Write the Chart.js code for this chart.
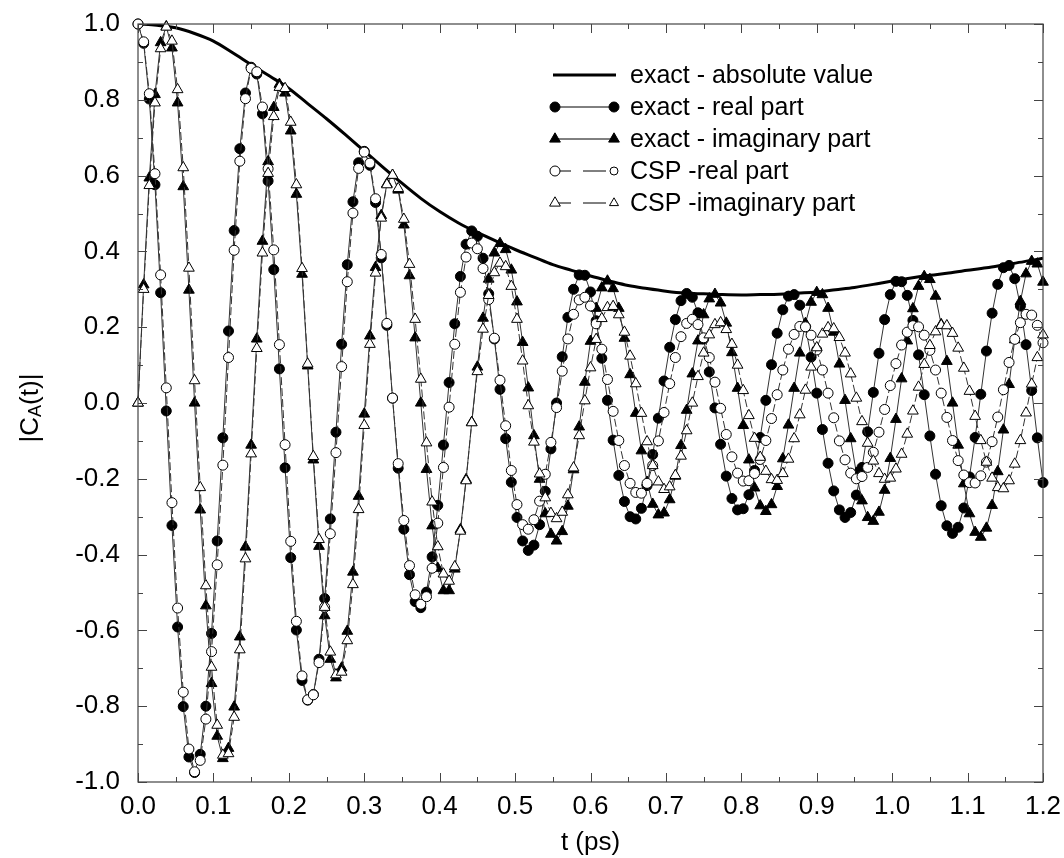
<!DOCTYPE html>
<html lang="en">
<head>
	<meta charset="UTF-8">
	<title>|CA(t)| exact vs CSP</title>
	<script src="https://cdn.jsdelivr.net/npm/chart.js"></script>
	<style>
		html, body { margin: 0; padding: 0; background: #fff; }
		#wrap { width: 1064px; height: 858px; }
	</style>
</head>
<body>
	<div id="wrap"><canvas id="myChart" width="1064" height="858"></canvas></div>
	<script type="text/javascript">
		// samples are taken every T_STEP ps, starting at t = 0
		var T_STEP = 0.0075;
		var ENV_STEP = 0.025;

		var seriesNames = ['exact - absolute value', 'exact - real part', 'exact - imaginary part', 'CSP -real part', 'CSP -imaginary part'];

		var exactAbs = [1.0, .997, .99, .975, .955, .925, .893, .862, .83, .79, .75, .708, .665, .622, .58, .54, .505, .475, .45, .427,
			.405, .385, .365, .35, .335, .322, .31, .302, .295, .29, .288, .286, .285, .286, .287, .29, .293, .299, .305, .313,
			.322, .33, .337, .343, .35, .357, .365, .373, .382];

		var exactRe = [1.0, .949, .802, .576, .291, -.021, -.323, -.591, -.801, -.934,
			-.975, -.927, -.800, -.608, -.364, -.092, .190, .455, .671, .818,
			.886, .868, .763, .586, .352, .090, -.171, -.408, -.599, -.732,
			-.784, -.769, -.676, -.516, -.306, -.077, .155, .365, .531, .634,
			.664, .627, .529, .383, .205, .013, -.172, -.333, -.453, -.524,
			-.540, -.499, -.406, -.270, -.111, .054, .209, .334, .419, .454,
			.440, .382, .288, .169, .036, -.094, -.209, -.302, -.364, -.389,
			-.375, -.321, -.233, -.121, .000, .122, .226, .300, .338, .337,
			.293, .217, .118, .007, -.098, -.191, -.260, -.300, -.306, -.278,
			-.218, -.136, -.040, .058, .147, .220, .270, .289, .279, .238,
			.169, .082, -.013, -.109, -.193, -.252, -.282, -.279, -.242, -.178,
			-.091, .007, .101, .184, .246, .282, .286, .258, .201, .121,
			.026, -.070, -.159, -.232, -.282, -.302, -.289, -.243, -.170, -.076,
			.028, .131, .220, .286, .321, .320, .284, .218, .127, .022,
			-.087, -.188, -.271, -.324, -.344, -.328, -.277, -.195, -.091, .023,
			.137, .237, .313, .357, .363, .328, .256, .154, .033, -.092,
			-.210];

		var exactIm = [0, .312, .594, .814, .951, .993, .937, .792, .571, .298,
			0, -.282, -.535, -.740, -.879, -.938, -.911, -.802, -.617, -.380,
			-.111, .169, .427, .637, .780, .841, .818, .718, .551, .340,
			.098, -.150, -.378, -.561, -.676, -.725, -.699, -.602, -.446, -.246,
			-.029, .177, .358, .495, .578, .601, .562, .470, .336, .172,
			0, -.175, -.324, -.436, -.495, -.495, -.438, -.334, -.202, -.051,
			.095, .224, .327, .396, .421, .405, .351, .267, .160, .040,
			-.086, -.201, -.292, -.346, -.364, -.339, -.272, -.176, -.063, .055,
			.163, .250, .304, .322, .302, .250, .171, .075, -.027, -.126,
			-.209, -.267, -.295, -.290, -.255, -.193, -.112, -.019, .077, .164,
			.233, .275, .287, .264, .211, .133, .039, -.059, -.150, -.224,
			-.271, -.286, -.268, -.220, -.147, -.058, .039, .132, .210, .266,
			.292, .286, .250, .187, .103, .007, -.094, -.185, -.258, -.302,
			-.312, -.288, -.230, -.146, -.043, .064, .164, .249, .308, .334,
			.326, .282, .207, .110, 0, -.111, -.213, -.292, -.341, -.354,
			-.330, -.270, -.181, -.071, .049, .167, .268, .341, .374, .367,
			.319];

		var cspRe = [1.0, .953, .816, .605, .338, .040, -.263, -.541, -.763, -.913,
			-.973, -.943, -.834, -.656, -.427, -.164, .120, .403, .638, .803,
			.883, .874, .781, .618, .404, .154, -.110, -.365, -.576, -.720,
			-.783, -.770, -.685, -.539, -.345, -.131, .096, .320, .501, .619,
			.662, .633, .539, .392, .210, .013, -.160, -.310, -.429, -.506,
			-.531, -.511, -.436, -.317, -.170, -.011, .155, .292, .385, .422,
			.407, .355, .273, .171, .060, -.060, -.178, -.268, -.321, -.333,
			-.308, -.259, -.188, -.104, -.012, .084, .169, .234, .272, .279,
			.256, .209, .142, .062, -.022, -.099, -.165, -.212, -.236, -.238,
			-.212, -.165, -.100, -.025, .051, .120, .175, .210, .221, .207,
			.172, .120, .055, -.014, -.083, -.142, -.185, -.206, -.205, -.186,
			-.149, -.099, -.041, .022, .087, .142, .181, .202, .201, .179,
			.140, .087, .026, -.039, -.100, -.150, -.185, -.200, -.194, -.170,
			-.130, -.077, -.017, .046, .104, .153, .187, .204, .201, .179,
			.139, .087, .026, -.038, -.099, -.152, -.190, -.210, -.211, -.192,
			-.156, -.102, -.037, .035, .107, .168, .212, .234, .232, .205,
			.159];

		var cspIm = [0, .300, .574, .792, .935, .992, .955, .827, .621, .356,
			.059, -.223, -.482, -.697, -.850, -.929, -.925, -.829, -.651, -.411,
			-.134, .144, .396, .606, .756, .833, .830, .741, .576, .355,
			.103, -.141, -.360, -.539, -.657, -.717, -.710, -.627, -.479, -.281,
			-.059, .155, .343, .488, .576, .601, .566, .485, .366, .221,
			.063, -.105, -.261, -.379, -.451, -.470, -.432, -.338, -.205, -.052,
			.083, .195, .284, .344, .369, .360, .308, .221, .111, -.007,
			-.103, -.187, -.250, -.291, -.305, -.288, -.242, -.171, -.086, .006,
			.093, .168, .223, .252, .255, .233, .187, .124, .051, -.027,
			-.102, -.165, -.208, -.228, -.221, -.191, -.140, -.073, 0, .070,
			.132, .180, .207, .212, .194, .155, .100, .033, -.033, -.093,
			-.143, -.180, -.202, -.204, -.186, -.148, -.094, -.031, .034, .095,
			.146, .182, .199, .196, .173, .132, .077, .013, -.049, -.106,
			-.153, -.186, -.201, -.198, -.174, -.135, -.082, -.021, .042, .102,
			.152, .188, .205, .204, .184, .145, .092, .031, -.035, -.099,
			-.156, -.198, -.223, -.226, -.205, -.161, -.099, -.026, .050, .120,
			.180];

		var FONT = '"Liberation Sans", Arial, Helvetica, sans-serif';

		function toPoints(vals, step) {
			return vals.map(function(v, i) { return { x: +(i * step).toFixed(4), y: v }; });
		}

		function drawMarker(ctx, style, filled, x, y, r) {
			ctx.beginPath();
			if (style === 'circle') {
				ctx.arc(x, y, r, 0, Math.PI * 2);
			} else {
				ctx.moveTo(x, y - r);
				ctx.lineTo(x + r * 0.866, y + r * 0.5);
				ctx.lineTo(x - r * 0.866, y + r * 0.5);
				ctx.closePath();
			}
			ctx.fillStyle = filled ? '#000' : '#fff';
			ctx.fill();
			ctx.lineWidth = 1;
			ctx.strokeStyle = '#000';
			ctx.stroke();
		}

		// frame, inward ticks, axis titles and the legend
		var decorPlugin = {
			id: 'decor',
			afterDraw: function(chart) {
				var ctx = chart.ctx, a = chart.chartArea;
				var xs = chart.scales.x, ys = chart.scales.y;
				ctx.save();
				ctx.strokeStyle = '#444';
				ctx.lineWidth = 1.2;
				ctx.strokeRect(a.left, a.top, a.right - a.left, a.bottom - a.top);

				ctx.beginPath();
				for (var k = 0; k <= 24; k++) {
					var px = Math.round(xs.getPixelForValue(k * 0.05)) + 0.5;
					var len = k % 2 === 0 ? 9 : 5;
					ctx.moveTo(px, a.bottom); ctx.lineTo(px, a.bottom - len);
					ctx.moveTo(px, a.top); ctx.lineTo(px, a.top + len);
				}
				for (k = 0; k <= 20; k++) {
					var py = Math.round(ys.getPixelForValue(-1 + k * 0.1)) + 0.5;
					var l2 = k % 2 === 0 ? 9 : 5;
					ctx.moveTo(a.left, py); ctx.lineTo(a.left + l2, py);
					ctx.moveTo(a.right, py); ctx.lineTo(a.right - l2, py);
				}
				ctx.lineWidth = 1;
				ctx.stroke();

				// x title
				ctx.fillStyle = '#000';
				ctx.font = '26px ' + FONT;
				ctx.textAlign = 'center';
				ctx.textBaseline = 'alphabetic';
				ctx.fillText('t (ps)', (a.left + a.right) / 2, 850);

				// y title |C_A(t)| with subscript
				var big = '26px ' + FONT, small = '18px ' + FONT;
				ctx.font = big;
				var w1 = ctx.measureText('|C').width, w3 = ctx.measureText('(t)|').width;
				ctx.font = small;
				var w2 = ctx.measureText('A').width;
				var total = w1 + w2 + w3;
				ctx.save();
				ctx.translate(38, 408);
				ctx.rotate(-Math.PI / 2);
				ctx.textAlign = 'left';
				ctx.font = big;
				ctx.fillText('|C', -total / 2, 0);
				ctx.font = small;
				ctx.fillText('A', -total / 2 + w1, 3);
				ctx.font = big;
				ctx.fillText('(t)|', -total / 2 + w1 + w2, 0);
				ctx.restore();

				// legend
				var rows = [
					{ kind: 'thick' },
					{ style: 'circle', filled: true, dashed: false },
					{ style: 'triangle', filled: true, dashed: false },
					{ style: 'circle', filled: false, dashed: true },
					{ style: 'triangle', filled: false, dashed: true }
				];
				var x0 = 555, x1 = 614, tx = 630;
				ctx.font = '25px ' + FONT;
				ctx.textAlign = 'left';
				ctx.textBaseline = 'middle';
				rows.forEach(function(r, i) {
					var y = 75 + i * 32;
					ctx.strokeStyle = '#000';
					ctx.beginPath();
					if (r.kind === 'thick') {
						ctx.lineWidth = 3;
						ctx.moveTo(553, y); ctx.lineTo(616, y);
						ctx.stroke();
					} else {
						ctx.lineWidth = 1;
						if (r.dashed) {
							ctx.moveTo(x0, y); ctx.lineTo(571, y);
							ctx.moveTo(583, y); ctx.lineTo(606, y);
						} else {
							ctx.moveTo(x0, y); ctx.lineTo(x1, y);
						}
						ctx.stroke();
						var rad = r.style === 'circle' ? 5 : 6.2;
						drawMarker(ctx, r.style, r.filled, x0, y, rad);
						drawMarker(ctx, r.style, r.filled, x1, y, r.dashed ? rad - 1 : rad);
					}
					ctx.fillStyle = '#000';
					ctx.fillText(seriesNames[i], tx, y + 1);
				});
				ctx.restore();
			}
		};

		var tickFont = { family: FONT, size: 26 };

		function lineSet(label, vals, style, filled, dashed) {
			return {
				label: label,
				data: toPoints(vals, T_STEP),
				borderColor: '#333',
				borderWidth: 1,
				borderDash: dashed ? [8, 3] : [],
				pointStyle: style,
				pointRadius: style === 'circle' ? 5 : 6.2,
				pointBackgroundColor: filled ? '#000' : '#fff',
				pointBorderColor: '#000',
				pointBorderWidth: 1,
				tension: 0,
				clip: 10
			};
		}

		// first dataset is drawn on top
		var myChart = new Chart(document.getElementById('myChart'), {
			type: 'line',
			data: {
				datasets: [
					lineSet(seriesNames[4], cspIm, 'triangle', false, true),
					lineSet(seriesNames[3], cspRe, 'circle', false, true),
					lineSet(seriesNames[2], exactIm, 'triangle', true, false),
					lineSet(seriesNames[1], exactRe, 'circle', true, false),
					{
						label: seriesNames[0],
						data: toPoints(exactAbs, ENV_STEP),
						borderColor: '#000',
						borderWidth: 3,
						pointRadius: 0,
						cubicInterpolationMode: 'monotone',
						tension: 0.4
					}
				]
			},
			options: {
				responsive: false,
				animation: false,
				events: [],
				layout: { padding: { left: 0, right: 21, top: 24, bottom: 0 } },
				plugins: { legend: { display: false }, tooltip: { enabled: false } },
				scales: {
					x: {
						type: 'linear',
						min: 0,
						max: 1.2,
						afterFit: function(s) { s.height = 76; s.paddingLeft = 0; s.paddingRight = 0; },
						grid: { display: false, drawTicks: false },
						border: { display: false },
						ticks: {
							stepSize: 0.1, padding: 9, color: '#000', font: tickFont,
							maxRotation: 0, autoSkip: false,
							callback: function(v) { return (Math.abs(v) < 1e-9 ? 0 : v).toFixed(1); }
						}
					},
					y: {
						type: 'linear',
						min: -1,
						max: 1,
						afterFit: function(s) { s.width = 138; s.paddingTop = 0; s.paddingBottom = 0; },
						grid: { display: false, drawTicks: false },
						border: { display: false },
						ticks: {
							stepSize: 0.2, padding: 18, color: '#000', font: tickFont,
							autoSkip: false,
							callback: function(v) { return (Math.abs(v) < 1e-9 ? 0 : v).toFixed(1); }
						}
					}
				}
			},
			plugins: [decorPlugin]
		});
	</script>
</body>
</html>
